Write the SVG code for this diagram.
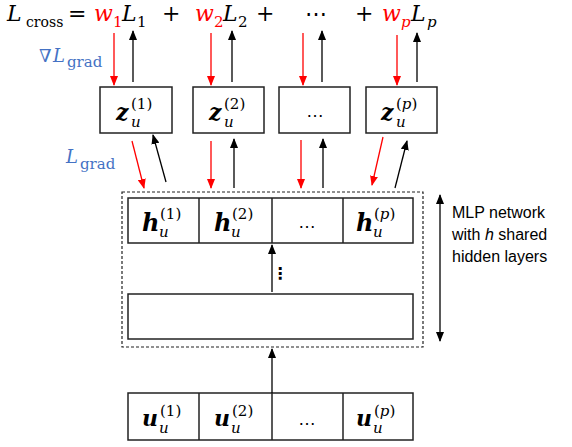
<svg xmlns="http://www.w3.org/2000/svg" width="572" height="447" viewBox="0 0 572 447">
<defs>
<marker id="ab" markerWidth="10" markerHeight="8" refX="9" refY="4" orient="auto" markerUnits="userSpaceOnUse"><path d="M0,0 L10,4 L0,8 z" fill="#000"/></marker>
<marker id="ar" markerWidth="10" markerHeight="8" refX="9" refY="4" orient="auto" markerUnits="userSpaceOnUse"><path d="M0,0 L10,4 L0,8 z" fill="#f00"/></marker>
<marker id="as" markerWidth="10" markerHeight="8" refX="1" refY="4" orient="auto" markerUnits="userSpaceOnUse"><path d="M10,0 L0,4 L10,8 z" fill="#000"/></marker>
</defs>
<style>
.m{font-family:"DejaVu Serif","Liberation Serif",serif;fill:#000}
.i{font-style:italic}
.b{font-weight:bold;font-style:italic}
.big{font-size:22px}
.sm{font-size:15px}
.red{fill:#f00}
.blue{fill:#4472C4}
.box{fill:#fff;stroke:#222;stroke-width:1.5}
.k{stroke:#000;stroke-width:1.3;fill:none;marker-end:url(#ab)}
.r{stroke:#f00;stroke-width:1.3;fill:none;marker-end:url(#ar)}
.s{font-family:"Liberation Sans","DejaVu Sans",sans-serif;fill:#000}
</style>
<g id="equation">
<text class="m i big" x="7" y="21">L</text><text class="m" font-size="14" x="26" y="27">cross</text>
<text class="m big" x="68" y="21">=</text>
<text class="m i big red" x="94" y="21">w</text><text class="m sm red" x="113" y="27">1</text>
<text class="m i big" x="122" y="21">L</text><text class="m sm" x="137" y="27">1</text>
<text class="m big" x="162" y="21">+</text>
<text class="m i big red" x="195" y="21">w</text><text class="m sm red" x="214" y="27">2</text>
<text class="m i big" x="223" y="21">L</text><text class="m sm" x="238" y="27">2</text>
<text class="m big" x="256" y="21">+</text>
<text class="m big" x="316" y="21" text-anchor="middle">⋯</text>
<text class="m big" x="355" y="21">+</text>
<text class="m i big red" x="382" y="21">w</text><text class="m i sm red" x="401" y="27">p</text>
<text class="m i big" x="411" y="21">L</text><text class="m i sm" x="427" y="27">p</text>
</g>
<g id="label-nabla">
<text class="m i blue" x="39" y="62" font-size="18">∇</text><text class="m i blue" x="53" y="62" font-size="18">L</text><text class="m blue" x="67" y="67" font-size="15">grad</text>
</g>
<g id="label-lgrad">
<text class="m i blue" x="66" y="163" font-size="18">L</text><text class="m blue" x="80" y="169" font-size="15">grad</text>
</g>
<g id="z1"><rect class="box" x="100" y="87" width="72" height="46"/>
<text class="m b big" x="116" y="120">z</text><text class="m sm" x="131" y="109">(1)</text><text class="m i sm" x="131" y="127">u</text></g>
<g id="z2"><rect class="box" x="193" y="87" width="71" height="46"/>
<text class="m b big" x="209" y="120">z</text><text class="m sm" x="224" y="109">(2)</text><text class="m i sm" x="224" y="127">u</text></g>
<g id="z3"><rect class="box" x="279" y="87" width="71" height="46"/>
<text class="s" x="315" y="117" font-size="18" text-anchor="middle">…</text></g>
<g id="zp"><rect class="box" x="366" y="87" width="71" height="46"/>
<text class="m b big" x="381" y="120">z</text><text class="m sm" x="396" y="109">(<tspan font-style="italic">p</tspan>)</text><text class="m i sm" x="396" y="127">u</text></g>
<g id="mlp">
<rect x="122" y="192" width="301" height="155" fill="none" stroke="#222" stroke-width="1.2" stroke-dasharray="3 2"/>
</g>
<g id="h-row">
<rect class="box" x="128" y="198" width="285" height="45"/>
<line x1="199" y1="198" x2="199" y2="243" stroke="#222" stroke-width="1.5"/>
<line x1="272" y1="198" x2="272" y2="243" stroke="#222" stroke-width="1.5"/>
<line x1="343" y1="198" x2="343" y2="243" stroke="#222" stroke-width="1.5"/>
<text class="m b" font-size="24" x="142" y="231">h</text><text class="m sm" x="160" y="219">(1)</text><text class="m i sm" x="159" y="237">u</text>
<text class="m b" font-size="24" x="214" y="231">h</text><text class="m sm" x="232" y="219">(2)</text><text class="m i sm" x="231" y="237">u</text>
<text class="s" x="307" y="228" font-size="18" text-anchor="middle">…</text>
<text class="m b" font-size="24" x="356" y="231">h</text><text class="m sm" x="374" y="219">(<tspan font-style="italic">p</tspan>)</text><text class="m i sm" x="373" y="237">u</text>
</g>
<g id="hidden-bottom"><rect class="box" x="128" y="294" width="285" height="45"/></g>
<g id="u-row">
<rect class="box" x="128" y="393" width="285" height="47"/>
<line x1="199" y1="393" x2="199" y2="440" stroke="#222" stroke-width="1.5"/>
<line x1="272" y1="393" x2="272" y2="440" stroke="#222" stroke-width="1.5"/>
<line x1="343" y1="393" x2="343" y2="440" stroke="#222" stroke-width="1.5"/>
<text class="m b" font-size="22" x="142" y="426">u</text><text class="m sm" x="160" y="416">(1)</text><text class="m i sm" x="159" y="433">u</text>
<text class="m b" font-size="22" x="214" y="426">u</text><text class="m sm" x="232" y="416">(2)</text><text class="m i sm" x="231" y="433">u</text>
<text class="s" x="307" y="425" font-size="18" text-anchor="middle">…</text>
<text class="m b" font-size="22" x="356" y="426">u</text><text class="m sm" x="374" y="416">(<tspan font-style="italic">p</tspan>)</text><text class="m i sm" x="373" y="433">u</text>
</g>
<g id="side-label">
<text class="s" font-size="16" x="452" y="218">MLP network</text>
<text class="s" font-size="16" x="452" y="240">with <tspan font-style="italic">h</tspan> shared</text>
<text class="s" font-size="16" x="452" y="262">hidden layers</text>
</g>
<g id="connectors">
<line class="r" x1="114" y1="33" x2="114" y2="85"/>
<line class="k" x1="133" y1="82" x2="133" y2="31"/>
<line class="r" x1="211" y1="33" x2="211" y2="85"/>
<line class="k" x1="232" y1="82" x2="232" y2="31"/>
<line class="r" x1="303" y1="33" x2="303" y2="85"/>
<line class="k" x1="322" y1="82" x2="322" y2="31"/>
<line class="r" x1="397" y1="35" x2="397" y2="85"/>
<line class="k" x1="417" y1="82" x2="417" y2="33"/>
<line class="r" x1="132" y1="141" x2="144" y2="188"/>
<line class="k" x1="166" y1="182" x2="153" y2="135"/>
<line class="r" x1="211" y1="141" x2="211" y2="188"/>
<line class="k" x1="234" y1="188" x2="234" y2="139"/>
<line class="r" x1="301" y1="140" x2="301" y2="188"/>
<line class="k" x1="323" y1="188" x2="323" y2="139"/>
<line class="r" x1="383" y1="137" x2="372" y2="185"/>
<line class="k" x1="395" y1="188" x2="407" y2="141"/>
<line class="k" x1="272" y1="292" x2="272" y2="245"/>
<line class="k" x1="272" y1="393" x2="272" y2="349"/>
<line x1="440" y1="195" x2="440" y2="341" stroke="#000" stroke-width="1.3" marker-start="url(#as)" marker-end="url(#ab)"/>
<text class="s" x="280" y="279" font-size="16" text-anchor="middle" font-weight="bold">⋮</text>
</g>
</svg>
